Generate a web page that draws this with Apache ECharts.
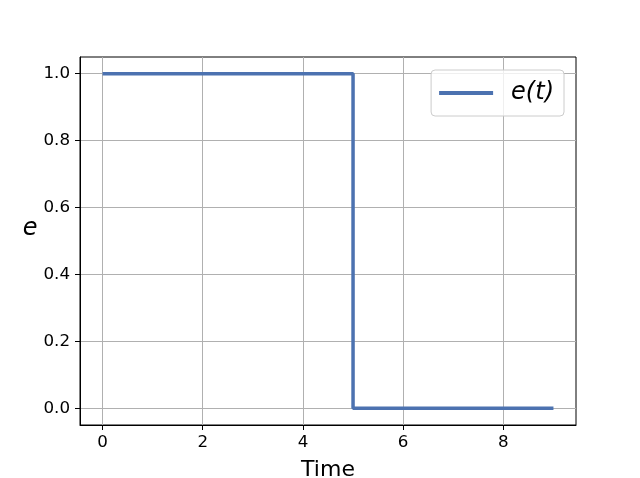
<!DOCTYPE html>
<html><head><meta charset="utf-8">
<script src="https://cdn.jsdelivr.net/npm/echarts@6/dist/echarts.min.js"></script>
<style>html,body{margin:0;padding:0;background:#fff}#c{width:640px;height:478px}</style>
</head><body><div id="c"></div>
<script>
const times = [0, 5, 9];
const values = [1, 0, 0];
const seriesName = 'e(t)';
const xLabel = 'Time';
const yLabel = 'e';

const chart = echarts.init(document.getElementById('c'), null, {renderer: 'canvas'});
const font = 'DejaVu Sans';
chart.setOption({
  animation: false,
  backgroundColor: '#fff',
  grid: {left: 80, right: 64, top: 57, bottom: 53, containLabel: false, outerBoundsMode: 'none',
    show: true, borderColor: '#000', borderWidth: 1, backgroundColor: 'transparent'},
  legend: {
    data: [seriesName], right: 76, top: 70, orient: 'vertical',
    icon: 'rect', itemWidth: 54, itemHeight: 4, itemGap: 0,
    backgroundColor: 'rgba(255,255,255,0.8)', borderColor: '#cccccc', borderWidth: 1, borderRadius: 4,
    padding: [11, 10, 11, 8],
    textStyle: {fontFamily: font, fontSize: 24, fontStyle: 'italic', color: '#000', padding: [0, 0, 0, 13]}
  },
  xAxis: {
    type: 'value', min: -0.45, max: 9.45, splitNumber: 5,
    name: xLabel, nameLocation: 'middle', nameGap: 34,
    nameTextStyle: {fontFamily: font, fontSize: 22, color: '#000'},
    axisLine: {show: true, onZero: false, lineStyle: {color: '#000', width: 1}},
    axisTick: {show: true, inside: false, length: 5, lineStyle: {color: '#000'}},
    axisLabel: {showMinLabel: false, showMaxLabel: false, fontFamily: font, fontSize: 16.7, color: '#000', margin: 9},
    splitLine: {show: true, showMinLine: false, showMaxLine: false, lineStyle: {color: '#b0b0b0', width: 1}}
  },
  yAxis: {
    type: 'value', min: -0.05, max: 1.05, splitNumber: 5,
    name: yLabel, nameLocation: 'middle', nameGap: 37, nameRotate: 0,
    nameTextStyle: {fontFamily: font, fontSize: 24, fontStyle: 'italic', color: '#000', verticalAlign: 'bottom'},
    axisLine: {show: true, onZero: false, lineStyle: {color: '#000', width: 1}},
    axisTick: {show: true, inside: false, length: 5, lineStyle: {color: '#000'}},
    axisLabel: {showMinLabel: false, showMaxLabel: false, fontFamily: font, fontSize: 16.7, color: '#000', margin: 10,
      formatter: v => v.toFixed(1)},
    splitLine: {show: true, showMinLine: false, showMaxLine: false, lineStyle: {color: '#b0b0b0', width: 1}}
  },
  series: [{
    name: seriesName, type: 'line', step: 'end',
    data: times.map((t, i) => [t, values[i]]),
    showSymbol: false, symbol: 'none',
    lineStyle: {color: '#4c72b0', width: 3.5},
    itemStyle: {color: '#4c72b0'}
  }]
});
</script></body></html>
